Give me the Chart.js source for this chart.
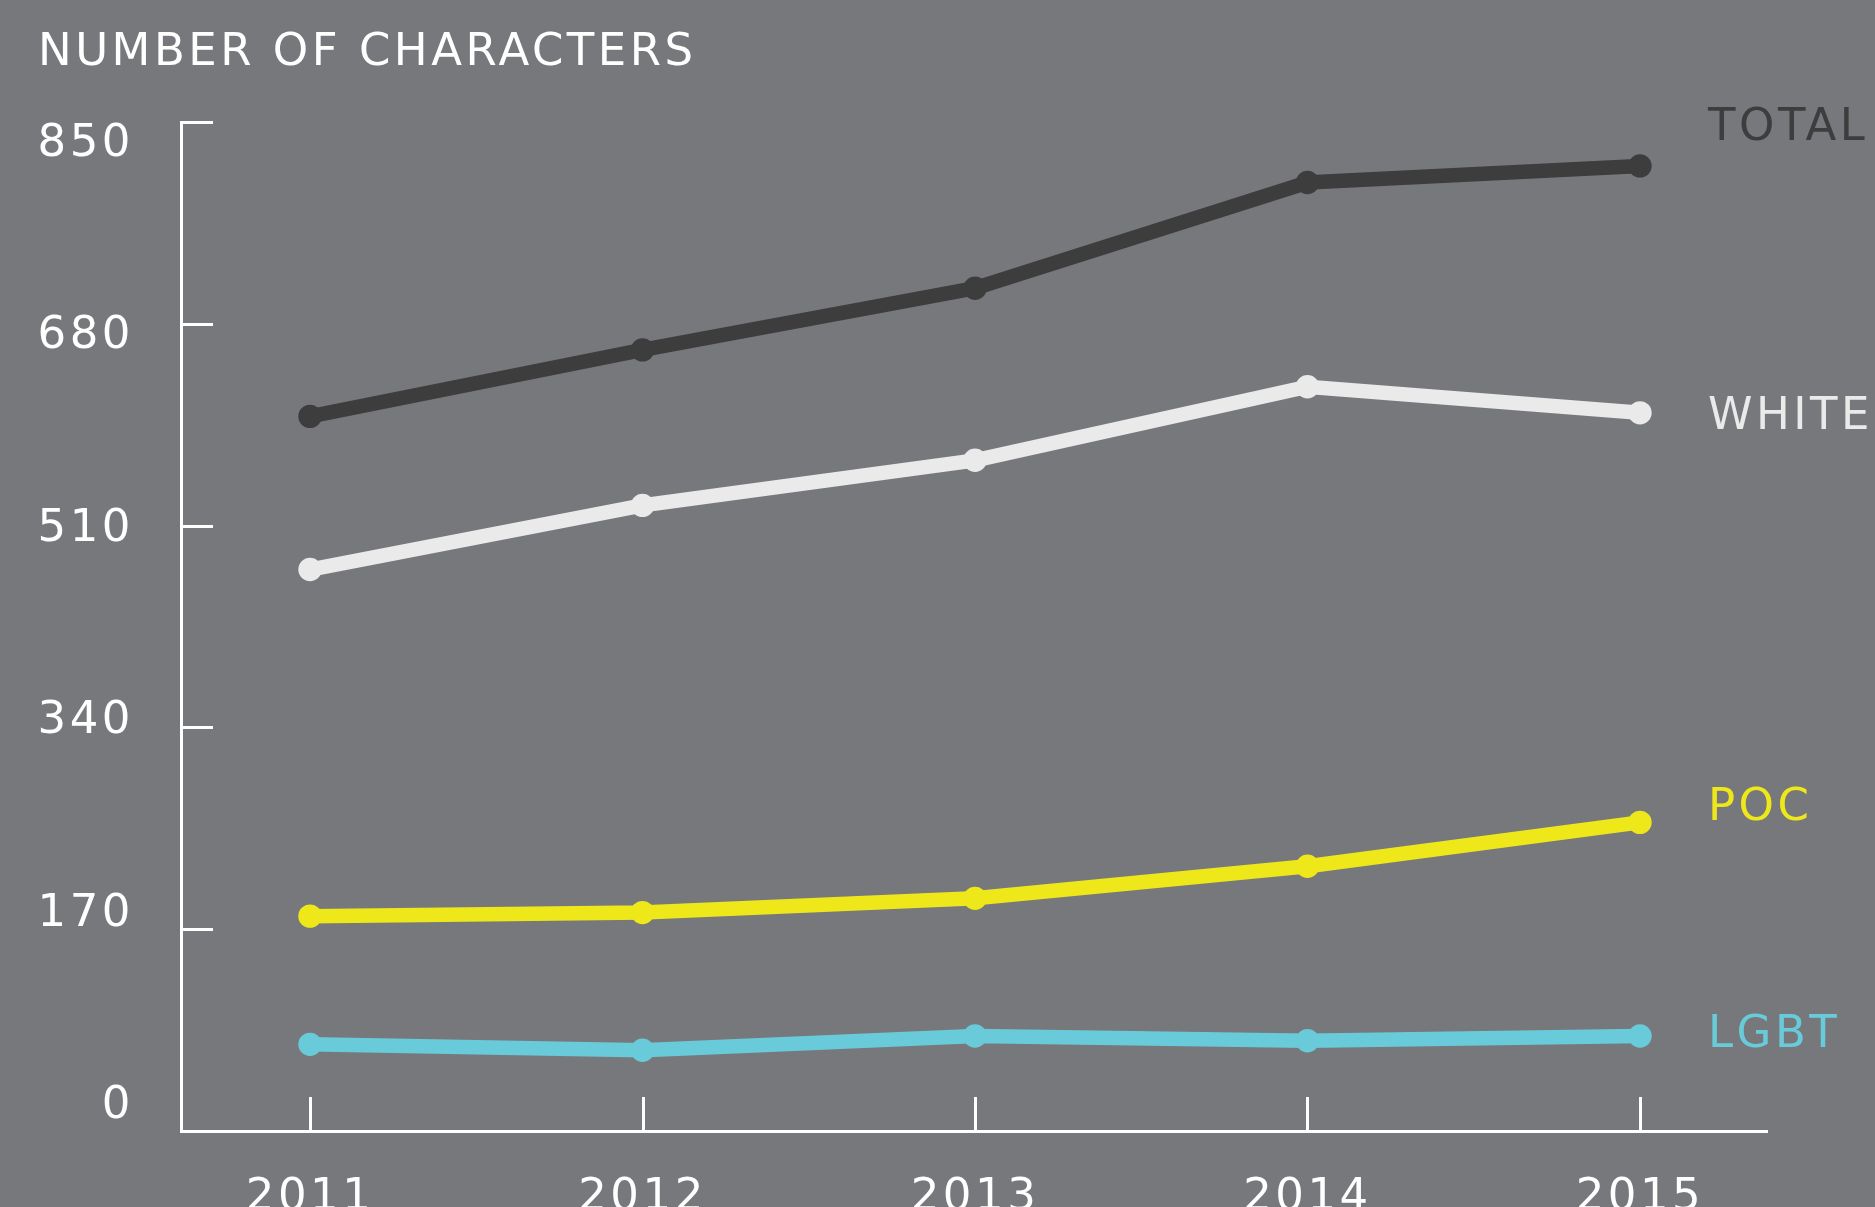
<!DOCTYPE html>
<html>
<head>
<meta charset="utf-8">
<script src="https://cdn.jsdelivr.net/npm/chart.js@4.4.1/dist/chart.umd.min.js"></script>
<style>
  html, body { margin: 0; padding: 0; background: #77787c; }
  .chart-box { position: relative; width: 1875px; height: 1207px; }
</style>
</head>
<body>
<div class="chart-box"><canvas id="charChart"></canvas></div>
<script>
var years = [2011, 2012, 2013, 2014, 2015];
var yTicks = [0, 170, 340, 510, 680, 850];
var totalVals = [602, 658, 710, 799, 813];
var whiteVals = [473, 527, 565, 627, 605];
var pocVals = [181, 184, 196, 223, 260];
var lgbtVals = [73, 68, 80, 76, 80];

var FONT = 'DejaVu Sans';

function pts(vals) {
    return years.map(function (y, i) { return { x: y, y: vals[i] }; });
}

function series(label, vals, color, dy) {
    return {
        label: label,
        data: pts(vals),
        borderColor: color,
        backgroundColor: color,
        pointBackgroundColor: color,
        pointBorderWidth: 0,
        pointRadius: 11.7,
        borderWidth: 14.5,
        tension: 0,
        labelDy: dy
    };
}

// tick marks point into the plot, so they are drawn here
var innerTicks = {
    id: 'innerTicks',
    beforeDraw: function (chart) {
        chart.ctx.letterSpacing = '3.5px';
    },
    beforeDatasetsDraw: function (chart) {
        var ctx = chart.ctx, a = chart.chartArea;
        var xs = chart.scales.x, ys = chart.scales.y;
        ctx.save();
        ctx.strokeStyle = '#ffffff';
        ctx.lineWidth = 3;
        ctx.beginPath();
        yTicks.forEach(function (v) {
            if (v === 0) return;
            var py = Math.round(ys.getPixelForValue(v)) + 0.5;
            ctx.moveTo(a.left, py);
            ctx.lineTo(a.left + 32, py);
        });
        years.forEach(function (v) {
            var px = Math.round(xs.getPixelForValue(v)) + 0.5;
            ctx.moveTo(px, a.bottom);
            ctx.lineTo(px, a.bottom - 34);
        });
        ctx.stroke();
        ctx.restore();
    },
    afterDatasetsDraw: function (chart) {
        var ctx = chart.ctx;
        ctx.save();
        ctx.font = '45px "' + FONT + '"';
        ctx.textAlign = 'left';
        ctx.textBaseline = 'middle';
        chart.data.datasets.forEach(function (ds, i) {
            var pts = chart.getDatasetMeta(i).data;
            var last = pts[pts.length - 1];
            ctx.fillStyle = ds.borderColor;
            ctx.fillText(ds.label, last.x + 68, last.y + ds.labelDy);
        });
        ctx.restore();
    }
};

new Chart(document.getElementById('charChart').getContext('2d'), {
    type: 'line',
    data: {
        datasets: [
            series('TOTAL', totalVals, '#3d3d3e', -38),
            series('WHITE', whiteVals, '#e9eae9', 4),
            series('POC', pocVals, '#eee81a', -14),
            series('LGBT', lgbtVals, '#69cbd9', -1)
        ]
    },
    options: {
        responsive: true,
        maintainAspectRatio: false,
        animation: false,
        layout: { padding: { left: 38, right: 108, top: 0, bottom: 0 } },
        plugins: {
            legend: { display: false },
            tooltip: { enabled: false },
            title: {
                display: true,
                text: 'NUMBER OF CHARACTERS',
                align: 'start',
                color: '#ffffff',
                font: { family: FONT, size: 45, weight: 'normal', lineHeight: 1.2 },
                padding: { top: 26, bottom: 42 }
            }
        },
        scales: {
            x: {
                type: 'linear',
                min: 2010.612,
                max: 2015.382,
                afterBuildTicks: function (s) { s.ticks = years.map(function (v) { return { value: v }; }); },
                afterFit: function (s) { s.height = 76; },
                grid: { display: false, drawTicks: false },
                border: { display: true, color: '#ffffff', width: 3 },
                ticks: {
                    color: '#ffffff',
                    padding: 40,
                    maxRotation: 0,
                    autoSkip: false,
                    font: { family: FONT, size: 45 },
                    callback: function (v) { return String(v); }
                }
            },
            y: {
                position: 'left',
                weight: 0,
                min: 0,
                max: 850,
                afterFit: function (s) { s.width = 47; },
                grid: { display: false, drawTicks: false },
                border: { display: true, color: '#ffffff', width: 3 },
                ticks: { display: false }
            },
            yLabels: {
                position: 'left',
                weight: 1,
                min: -21.7,
                max: 869.7,
                afterBuildTicks: function (s) { s.ticks = yTicks.map(function (v) { return { value: v }; }); },
                afterFit: function (s) { s.width = 96; },
                grid: { display: false, drawTicks: false },
                border: { display: false },
                ticks: {
                    color: '#ffffff',
                    padding: 0,
                    font: { family: FONT, size: 45 },
                    callback: function (v) { return String(v); }
                }
            }
        }
    },
    plugins: [innerTicks]
});
</script>
</body>
</html>
